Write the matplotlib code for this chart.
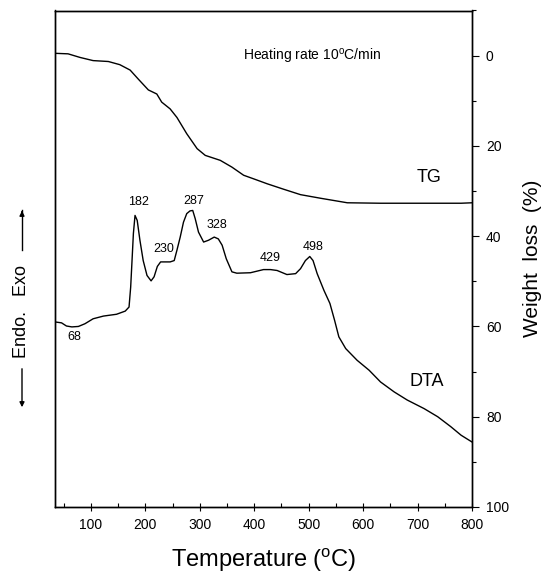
import matplotlib
matplotlib.use("Agg")
import matplotlib.pyplot as plt
from matplotlib.ticker import MultipleLocator

plt.rcParams['font.family'] = 'Liberation Sans'
plt.rcParams['mathtext.fontset'] = 'custom'
plt.rcParams['mathtext.rm'] = 'Liberation Sans'

# DTA trace (arbitrary units, exo up)
dta_temp = [34, 46, 55, 65, 77, 89, 104, 123, 147, 163, 170, 173, 175.5, 178, 181,
            185, 190, 196, 203, 210.5, 216, 222, 228, 245.5, 253, 258, 264, 270,
            276, 282, 287, 291.5, 297.6, 307, 316, 326.5, 334, 341, 348.6, 359,
            368, 393, 417, 430, 442, 460, 476, 485, 494, 502, 508, 515.6, 528,
            539, 547.5, 555.4, 568, 589, 611, 632, 657, 681, 712, 737, 761, 780, 800]
dta_signal = [41.0, 40.8, 40.1, 39.9, 40.0, 40.6, 41.7, 42.3, 42.7, 43.4, 44.3, 48.7,
              54.6, 60.6, 64.6, 63.5, 59.1, 54.6, 51.3, 50.1, 51.0, 53.3, 54.3, 54.3,
              54.6, 56.9, 59.8, 63.1, 65.0, 65.6, 65.7, 63.9, 60.9, 58.7, 59.1, 59.8,
              59.4, 58.0, 55.0, 52.1, 51.8, 51.9, 52.6, 52.6, 52.4, 51.5, 51.7, 52.8,
              54.6, 55.5, 54.6, 51.7, 48.0, 45.1, 41.4, 37.7, 35.1, 32.5, 30.3, 27.7,
              25.5, 23.7, 21.8, 20.0, 17.8, 15.9, 14.4]

# TG trace (weight loss %)
tg_temp = [34, 37, 58, 80, 104, 132, 153, 172, 187, 205.5, 221, 230, 245.5, 258,
           276, 295, 310, 337.6, 359, 380.5, 399, 424, 454, 485, 522, 571, 632, 780, 800]
tg_loss = [-0.5, -0.5, -0.4, 0.4, 1.1, 1.3, 2.0, 3.2, 5.2, 7.6, 8.5, 10.3, 11.8, 13.7,
           17.3, 20.6, 22.1, 23.2, 24.7, 26.5, 27.3, 28.4, 29.6, 30.8, 31.6, 32.6,
           32.7, 32.7, 32.6]

# peak temperatures marked on the DTA curve
peak_labels = ['68', '182', '230', '287', '328', '429', '498']
peak_text_x = [69, 187, 233, 288, 332, 429, 508]
peak_text_y = [37.6, 67.5, 57.1, 67.7, 62.4, 55.2, 57.7]

fig = plt.figure(figsize=(5.47, 5.73), dpi=100)
ax = fig.add_axes([55 / 547, 1 - 507 / 573, 417 / 547, 496.5 / 573])
ax2 = ax.twinx()

ax.plot(dta_temp, dta_signal, color='black', lw=1.0)
ax2.plot(tg_temp, tg_loss, color='black', lw=1.0)

ax.set_xlim(34, 800)
ax.set_ylim(0, 110)
ax2.set_ylim(100, -10)

ax.set_yticks([])
ax.xaxis.set_major_locator(MultipleLocator(100))
ax.xaxis.set_minor_locator(MultipleLocator(50))
ax.tick_params(axis='x', which='major', direction='inout', length=6, width=0.8,
               labelsize=10, pad=5, top=False)
ax.tick_params(axis='x', which='minor', direction='in', length=3, width=0.8, top=False)
ax.set_xticks(range(100, 801, 100))

ax2.yaxis.set_major_locator(MultipleLocator(20))
ax2.yaxis.set_minor_locator(MultipleLocator(10))
ax2.set_yticks(range(0, 101, 20))
ax2.tick_params(axis='y', which='major', direction='out', length=5, width=0.8,
                labelsize=10, pad=5)
ax2.tick_params(axis='y', which='minor', direction='out', length=3, width=0.8)

for a in (ax, ax2):
    for s in a.spines.values():
        s.set_linewidth(1.0)

ax.set_xlabel(r'Temperature ($^\mathregular{o}$C)', fontsize=17, labelpad=10)
ax2.set_ylabel('Weight  loss  (%)', fontsize=15, labelpad=10)

for lab, tx, ty in zip(peak_labels, peak_text_x, peak_text_y):
    ax.text(tx, ty, lab, fontsize=9, ha='center', va='center')

ax.text(717, 27.7, 'DTA', fontsize=13, ha='center', va='center')
ax2.text(721, 27, 'TG', fontsize=13, ha='center', va='center')
ax2.text(380, 0.3, r'Heating rate 10$^\mathregular{o}$C/min', fontsize=10,
         ha='left', va='center')

# Endo / Exo direction marker on the left
fig.text(22 / 547, 1 - 311 / 573, 'Endo.   Exo', rotation=90, fontsize=13,
         ha='center', va='center')
fig.add_artist(plt.Line2D([22 / 547, 22 / 547], [1 - 250 / 573, 1 - 210 / 573],
                          color='black', lw=1.0))
ax.annotate('', xy=(22 / 547, 1 - 208 / 573), xytext=(22 / 547, 1 - 215 / 573),
            xycoords='figure fraction',
            arrowprops=dict(arrowstyle='-|>', color='black', lw=1.0,
                            mutation_scale=7))
ax.annotate('', xy=(22 / 547, 1 - 410 / 573), xytext=(22 / 547, 1 - 366 / 573),
            xycoords='figure fraction',
            arrowprops=dict(arrowstyle='-|>', color='black', lw=1.0,
                            mutation_scale=7))

fig.savefig('out.png', dpi=100)
